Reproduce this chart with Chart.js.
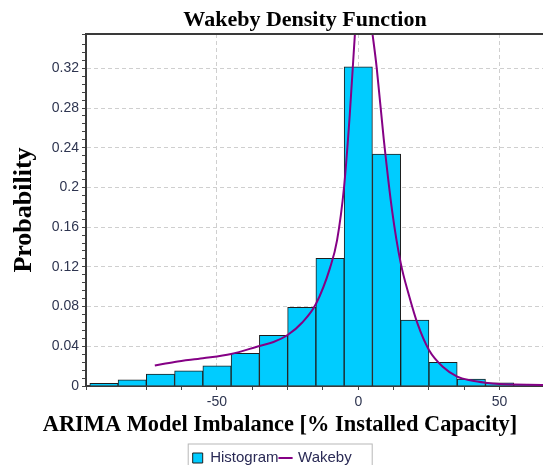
<!DOCTYPE html>
<html>
<head>
<meta charset="utf-8">
<script src="https://cdn.jsdelivr.net/npm/chart.js@4.4.1/dist/chart.umd.min.js"></script>
<style>
  html, body { margin: 0; padding: 0; background: #fff; overflow: hidden; }
  #wrap { width: 543px; height: 465px; overflow: hidden; }
  canvas { display: block; }
</style>
</head>
<body>
<div id="wrap"><canvas id="chartCanvas" width="560" height="465"></canvas></div>
<script>
// histogram: centre of each 10-wide bin and its height
const binCenters = [-90, -80, -70, -60, -50, -40, -30, -20, -10, 0, 10, 20, 30, 40, 50, 60];
const binHeights = [0.0027, 0.0063, 0.0121, 0.0154, 0.0204, 0.0329, 0.0511, 0.0793, 0.1286, 0.3216, 0.2337, 0.0665, 0.0239, 0.007, 0.0033, 0.0015];

// fitted Wakeby density
const curveX = [-72, -65, -55, -45, -35, -30, -25, -20, -15, -10, -7.5, -5, -3, -1.5, 1.6, 4, 6.5, 9, 12, 15, 18, 21, 25, 30, 35, 40, 45, 50, 55, 60, 65, 72];
const curveY = [0.0206, 0.0242, 0.0279, 0.0322, 0.0403, 0.0443, 0.0514, 0.0635, 0.0826, 0.119, 0.147, 0.2015, 0.274, 0.341, 0.46, 0.38, 0.321, 0.249, 0.176, 0.124, 0.0907, 0.0625, 0.0363, 0.0191, 0.0094, 0.0055, 0.0033, 0.002, 0.0015, 0.0012, 0.001, 0.0008];

// labelled ticks (minor ticks in between stay unlabelled)
const xTickLabels = [-50, 0, 50];
const yTickLabels = [0, 0.04, 0.08, 0.12, 0.16, 0.2, 0.24, 0.28, 0.32];

const findTick = (list, v) => list.find(t => Math.abs(t - v) < 1e-6);
const gridColor = list => ctx => (ctx.tick && findTick(list, ctx.tick.value) !== undefined) ? '#cfcfcf' : 'rgba(0,0,0,0)';

Chart.defaults.font.family = "'Liberation Sans', Arial, sans-serif";
Chart.defaults.color = '#2e3550';

// title and legend sit off-centre in the original picture
const nudgeBoxes = {
  id: 'nudgeBoxes',
  afterLayout(chart) {
    chart.titleBlock.left = 50;
    chart.legend.left = 190.7;
  },
  afterDraw(chart) {
    const { ctx, chartArea, legend } = chart;
    ctx.save();
    // top frame line
    ctx.strokeStyle = '#3a3a3a';
    ctx.lineWidth = 2;
    ctx.beginPath();
    ctx.moveTo(chartArea.left - 1, chartArea.top);
    ctx.lineTo(chartArea.right, chartArea.top);
    ctx.stroke();
    // legend frame
    ctx.strokeStyle = '#b8b8b8';
    ctx.lineWidth = 1;
    ctx.strokeRect(legend.left - 2.5, legend.top - 4.5, 184, 30);
    ctx.restore();
  }
};

const canvas = document.getElementById('chartCanvas');

new Chart(canvas, {
  type: 'bar',
  data: {
    datasets: [{
      type: 'bar',
      label: 'Histogram',
      data: binCenters.map((x, i) => ({ x, y: binHeights[i] })),
      backgroundColor: '#00CCFF',
      borderColor: '#1e1e1e',
      borderWidth: 1,
      barPercentage: 1,
      categoryPercentage: 1,
      pointStyle: 'rect',
      order: 2
    }, {
      type: 'line',
      label: 'Wakeby',
      data: curveX.map((x, i) => ({ x, y: curveY[i] })),
      borderColor: '#850085',
      backgroundColor: '#850085',
      borderWidth: 2,
      pointRadius: 0,
      pointStyle: 'line',
      cubicInterpolationMode: 'monotone',
      fill: false,
      order: 1
    }]
  },
  options: {
    responsive: false,
    animation: false,
    layout: { padding: 0 },
    plugins: {
      title: {
        display: true,
        text: 'Wakeby Density Function',
        color: '#000',
        font: { family: "'Liberation Serif', 'Times New Roman', serif", size: 22, weight: 'bold' },
        padding: { top: 7, bottom: 0.6 }
      },
      subtitle: {
        display: true,
        position: 'bottom',
        weight: 500,
        text: 'ARIMA Model Imbalance [% Installed Capacity]',
        color: '#000',
        font: { family: "'Liberation Serif', 'Times New Roman', serif", size: 22.4, weight: 'bold' },
        padding: { top: 3, bottom: 9.62 }
      },
      legend: {
        position: 'bottom',
        align: 'start',
        maxHeight: 16.5,
        labels: {
          usePointStyle: true,
          boxWidth: 10,
          boxHeight: 10,
          padding: 2,
          color: '#2a2a55',
          font: { size: 15 },
          sort: (a, b) => a.datasetIndex - b.datasetIndex
        }
      },
      tooltip: { enabled: false }
    },
    scales: {
      x: {
        type: 'linear',
        offset: false,
        min: -96.35,
        max: 69.96,
        afterFit: s => { s.height = 23; },
        ticks: {
          stepSize: 12.5,
          autoSkip: false,
          maxRotation: 0,
          padding: 4,
          font: { size: 14 },
          callback: v => { const t = findTick(xTickLabels, v); return t === undefined ? '' : String(t); }
        },
        grid: { offset: false, color: gridColor(xTickLabels), tickColor: '#444', tickLength: 4, tickWidth: 1 },
        border: { display: true, color: '#3a3a3a', width: 2, dash: [4, 3] }
      },
      y: {
        min: 0,
        max: 0.3546,
        afterFit: s => { s.width = 86; },
        title: {
          display: true,
          text: 'Probability',
          color: '#000',
          font: { family: "'Liberation Serif', 'Times New Roman', serif", size: 26, weight: 'bold' },
          padding: { top: 8.4, bottom: 0 }
        },
        ticks: {
          stepSize: 0.008,
          autoSkip: false,
          padding: 3,
          font: { size: 14 },
          callback: v => { const t = findTick(yTickLabels, v); return t === undefined ? '' : String(t); }
        },
        grid: { color: gridColor(yTickLabels), tickColor: '#444', tickLength: 4, tickWidth: 1 },
        border: { display: true, color: '#3a3a3a', width: 2, dash: [4, 3] }
      }
    }
  },
  plugins: [nudgeBoxes]
});
</script>
</body>
</html>
